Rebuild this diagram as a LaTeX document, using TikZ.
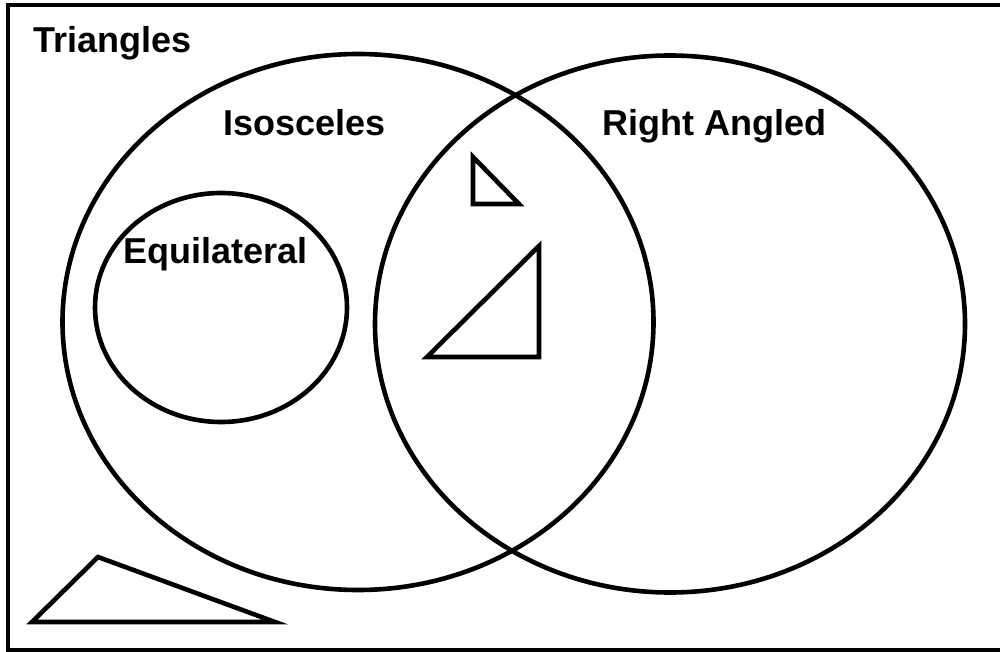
\documentclass[tikz,border=0pt]{standalone}
\usepackage{fontspec}
\setmainfont{Liberation Sans}
\usetikzlibrary{positioning}

\begin{document}
\begin{tikzpicture}[x=1pt, y=-1pt,
  setline/.style={draw=black, line width=4.6pt},
  trishape/.style={draw=black, line width=4.6pt, line join=miter},
  setlab/.style={font=\fontsize{36}{40}\selectfont\bfseries, inner sep=0pt, anchor=base west}]
\useasboundingbox (0,0) rectangle (1000,652);
\clip (0,0) rectangle (1000,652);
% ---------------- frame: all triangles ----------------
\draw[line width=4pt] (8,5.5) rectangle (1010,650);
\node[setlab] (triangles) at (33,53) {Triangles};
% ---------------- the three sets ----------------
\draw[setline] (358,322) ellipse [x radius=295.5, y radius=268];
\draw[setline] (670,324) ellipse [x radius=295, y radius=268.5];
\draw[setline] (221,307.5) ellipse [x radius=126, y radius=114.5];
\node[setlab] (isosceles) at (223,136) {Isosceles};
\node[setlab] (rightangled) at (602,136) {Right Angled};
\node[setlab] (equilateral) at (123,263) {Equilateral};
% ---------------- sample triangles ----------------
\draw[trishape] (473,157) -- (473,204) -- (519,204) -- cycle;
\draw[trishape] (427,357) -- (539,357) -- (539,246) -- cycle;
\draw[trishape] (32,622) -- (98,557) -- (275,622) -- cycle;
\end{tikzpicture}
\end{document}
